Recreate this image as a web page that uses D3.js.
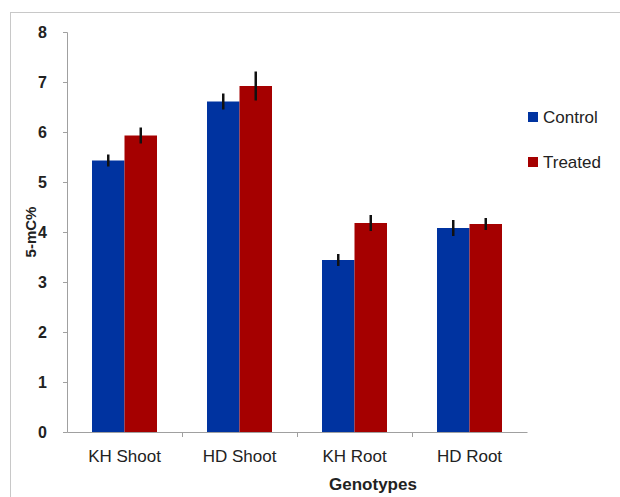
<!DOCTYPE html>
<html><head><meta charset="utf-8">
<script src="https://cdn.jsdelivr.net/npm/d3@7"></script>
<style>body{margin:0;background:#fff}svg{display:block}</style>
</head><body>
<svg id="c" width="620" height="497"></svg>
<script>
const categories = ["KH Shoot", "HD Shoot", "KH Root", "HD Root"];
const seriesNames = ["Control", "Treated"];
const controlValues = [5.43, 6.61, 3.44, 4.08];
const treatedValues = [5.93, 6.92, 4.18, 4.16];
const controlErrors = [0.12, 0.16, 0.12, 0.16];
const treatedErrors = [0.16, 0.29, 0.16, 0.12];
const yTicks = [0, 1, 2, 3, 4, 5, 6, 7, 8];
const colors = ["#0033a0", "#a50000"];

const FONT = "Liberation Sans, Arial, sans-serif";
const svg = d3.select("#c");
svg.append("rect").attr("x", 10.5).attr("y", 12.5).attr("width", 640).attr("height", 520)
  .attr("fill", "none").attr("stroke", "#c8c8c8");

const x0 = 67, x1 = 527, yTop = 32, yBot = 432;
const x = d3.scaleBand().domain(categories).range([x0, x1]).paddingInner(0).paddingOuter(0);
const y = d3.scaleLinear().domain([0, 8]).range([yBot, yTop]);
const xs = d3.scaleBand().domain(seriesNames).range([0, 65]);
const offset = (x.bandwidth() - 65) / 2;

// axes
const ya = svg.append("g").attr("transform", `translate(${x0},0)`)
  .call(d3.axisLeft(y).tickValues(yTicks).tickSize(4).tickPadding(16).tickFormat(d3.format("d")));
ya.select(".domain").attr("stroke", "#a0a0a0");
ya.selectAll(".tick line").attr("stroke", "#a0a0a0");
ya.selectAll("text").attr("font-family", FONT).attr("font-size", 16)
  .attr("font-weight", "bold").attr("fill", "#222");

const xa = svg.append("g").attr("transform", `translate(0,${yBot})`)
  .call(d3.axisBottom(x).tickSize(0).tickPadding(18));
xa.select(".domain").attr("stroke", "#a0a0a0");
xa.selectAll("text").attr("font-family", FONT).attr("font-size", 17)
  .attr("fill", "#222");
// category boundary ticks
svg.append("g").selectAll("line").data(categories.slice(1)).join("line")
  .attr("x1", d => x(d) + 0.5).attr("x2", d => x(d) + 0.5)
  .attr("y1", yBot).attr("y2", yBot + 5).attr("stroke", "#a0a0a0");

// bars
const data = categories.map((c, i) => ({c, vals: [
  {s: seriesNames[0], v: controlValues[i], e: controlErrors[i]},
  {s: seriesNames[1], v: treatedValues[i], e: treatedErrors[i]}]}));
const g = svg.append("g").selectAll("g").data(data).join("g")
  .attr("transform", d => `translate(${x(d.c) + offset},0)`);
g.selectAll("rect").data(d => d.vals).join("rect")
  .attr("x", d => xs(d.s)).attr("width", xs.bandwidth())
  .attr("y", d => y(d.v)).attr("height", d => yBot - y(d.v))
  .attr("fill", (d, i) => colors[i]);
g.selectAll("line").data(d => d.vals).join("line")
  .attr("x1", d => xs(d.s) + xs.bandwidth() / 2).attr("x2", d => xs(d.s) + xs.bandwidth() / 2)
  .attr("y1", d => y(d.v + d.e)).attr("y2", d => y(d.v - d.e))
  .attr("stroke", "#111").attr("stroke-width", 2.5);

// axis titles
svg.append("text").attr("x", 373).attr("y", 490).attr("text-anchor", "middle")
  .attr("font-family", FONT).attr("font-size", 17).attr("font-weight", "bold")
  .attr("fill", "#222").text("Genotypes");
svg.append("text").attr("transform", "translate(36,232) rotate(-90)").attr("text-anchor", "middle")
  .attr("font-family", FONT).attr("font-size", 15).attr("font-weight", "bold")
  .attr("fill", "#222").text("5-mC%");

// legend
const lg = svg.append("g").selectAll("g").data(seriesNames).join("g")
  .attr("transform", (d, i) => `translate(528,${112 + i * 45})`);
lg.append("rect").attr("width", 10).attr("height", 10).attr("fill", (d, i) => colors[i]);
lg.append("text").attr("x", 15).attr("y", 11).attr("font-family", FONT)
  .attr("font-size", 17).attr("fill", "#222").text(d => d);
</script>
</body></html>
